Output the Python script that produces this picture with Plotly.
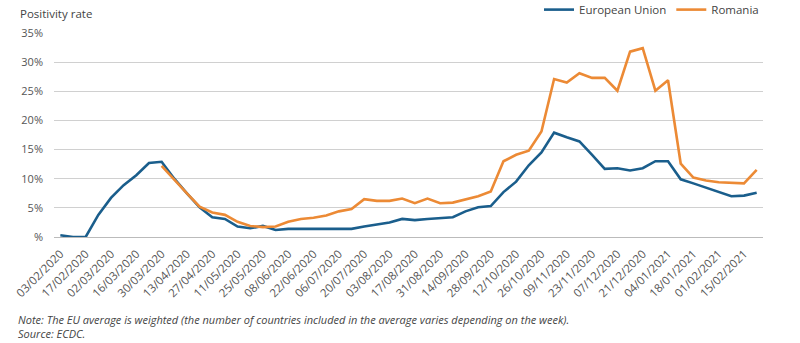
import datetime as dt
import plotly.graph_objects as go

start = dt.date(2020, 2, 3)
weeks = [(start + dt.timedelta(weeks=i)).strftime("%d/%m/%Y") for i in range(56)]

eu = [0.3, 0.0, 0.0, 3.8, 6.7, 8.9, 10.6, 12.7, 12.9, 10.0,
      7.5, 5.1, 3.4, 3.1, 1.8, 1.5, 1.9, 1.2, 1.4, 1.4,
      1.4, 1.3, 1.3, 1.4, 1.8, 2.1, 2.5, 3.1, 2.9, 3.1,
      3.3, 3.4, 4.4, 5.1, 5.3, 7.7, 9.5, 12.3, 14.5, 17.9,
      17.1, 16.4, 14.1, 11.7, 11.8, 11.4, 11.8, 13.0, 13.0, 9.9,
      9.2, 8.5, 7.8, 7.0, 7.1, 7.6]

romania = [None] * 8 + [
      12.2, 9.8,
      7.5, 5.2, 4.2, 3.8, 2.6, 1.9, 1.7, 1.8, 2.6, 3.1,
      3.3, 3.7, 4.4, 4.8, 6.5, 6.2, 6.2, 6.6, 5.8, 6.6,
      5.8, 5.9, 6.5, 7.0, 7.8, 13.0, 14.1, 14.8, 18.1, 27.1,
      26.5, 28.1, 27.3, 27.3, 25.1, 31.8, 32.4, 25.1, 26.9, 12.6,
      10.2, 9.7, 9.4, 9.3, 9.2, 11.5]

ytick_vals = [0, 5, 10, 15, 20, 25, 30, 35]
ytick_text = ["%", "5%", "10%", "15%", "20%", "25%", "30%", "35%"]

blue = "#1a5e8c"
orange = "#ec8a35"
font_family = "Open Sans"

fig = go.Figure()
fig.add_trace(go.Scatter(x=weeks, y=eu, mode="lines", name="European Union",
                         line=dict(color=blue, width=2.6)))
fig.add_trace(go.Scatter(x=weeks, y=romania, mode="lines", name="Romania",
                         line=dict(color=orange, width=2.6)))

fig.update_layout(
    width=800, height=343,
    margin=dict(l=54, r=37, t=33, b=106, autoexpand=False),
    paper_bgcolor="white", plot_bgcolor="white",
    font=dict(family=font_family, color="#555555", size=10),
    showlegend=True,
    legend=dict(orientation="h", xref="container", yref="container",
                x=0.955, xanchor="right", y=0.972, yanchor="middle",
                font=dict(size=11.5, color="#444444"), itemwidth=30,
                bgcolor="rgba(0,0,0,0)"),
    annotations=[
        dict(text="Positivity rate", xref="paper", yref="paper", x=-0.051, y=1.098,
             xanchor="left", yanchor="middle", showarrow=False,
             font=dict(size=11.5, color="#444444")),
        dict(text="<i>Note: The EU average is weighted (the number of countries included in the average varies depending on the week).</i><br><i>Source: ECDC.</i>",
             xref="paper", yref="paper", x=-0.054, y=-0.36, xanchor="left", yanchor="top",
             align="left", showarrow=False, font=dict(size=11, color="#444444")),
    ],
)
fig.update_xaxes(type="category", tickmode="array", tickvals=weeks[::2],
                 tickangle=-45, showgrid=False, showline=False, ticks="",
                 tickfont=dict(size=11.5, color="#555555"), range=[-0.5, 55.5],
                 ticklabelstandoff=7, automargin=False)
fig.update_yaxes(range=[0, 35], tickvals=ytick_vals, ticktext=ytick_text,
                 showgrid=True, gridcolor="#d0d0d0", gridwidth=1,
                 zeroline=True, zerolinecolor="#bbbbbb", zerolinewidth=1.2,
                 tickfont=dict(size=11, color="#555555"), ticks="", ticklabelstandoff=10,
                 automargin=False)

fig.write_html("out.html")
